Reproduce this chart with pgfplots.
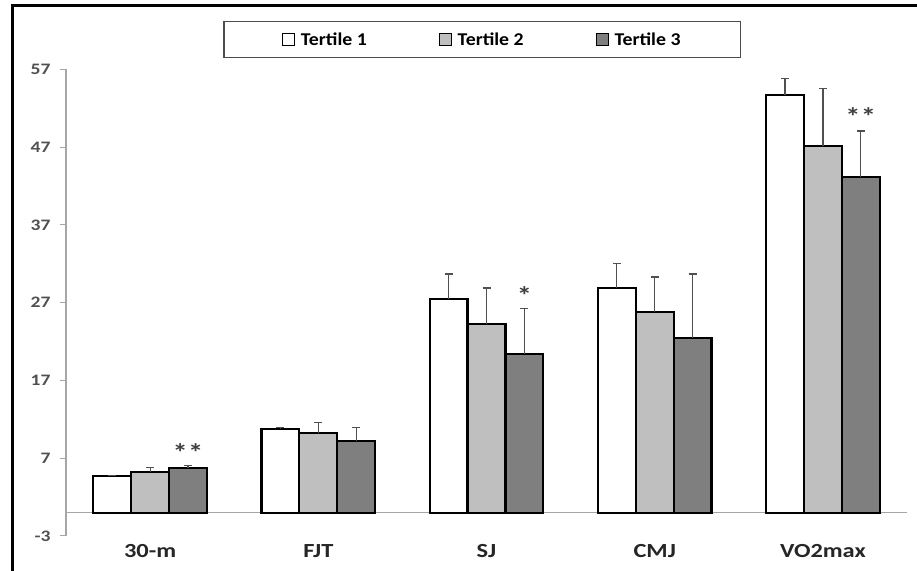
\documentclass[border=0pt]{standalone}
\usepackage{fontspec}
\setmainfont{Carlito}
\newfontfamily\catfont{Carlito}[FakeStretch=1.22]
\newfontfamily\legfont{Carlito}[FakeStretch=1.1]
\usepackage{pgfplots}
\pgfplotsset{compat=1.18}
\definecolor{tone2}{HTML}{BFBFBF}
\definecolor{tone3}{HTML}{7F7F7F}
\definecolor{axisgray}{HTML}{A6A6A6}
\definecolor{errgray}{HTML}{505050}
\definecolor{ticktext}{HTML}{505050}

\begin{document}
\begin{tikzpicture}[x=1bp,y=1bp]
\useasboundingbox (-66,-35) rectangle (851,536);
\fill[white] (-66,-35) rectangle (851,536);
\draw[line width=3bp] (-53,-35) -- (-53,530) -- (851,530);
\begin{axis}[
  at={(0,0)}, anchor=south west,
  scale only axis, width=841bp, height=466.5bp,
  xmin=-0.5, xmax=4.5, ymin=-3, ymax=57,
  axis y line=left, axis x line=middle,
  axis line style={-, axisgray, line width=1.2bp},
  every inner x axis line/.append style={-},
  every outer y axis line/.append style={-},
  clip=false,
  ybar=0pt,
  bar width=0.225,
  xtick={0,1,2,3,4},
  xticklabels={30-m,FJT,SJ,CMJ,VO2max},
  major x tick style={draw=none},
  extra x ticks={0.5,1.5,2.5,3.5,4.5},
  extra x tick labels={},
  extra x tick style={major tick length=6bp, tick style={axisgray, line width=1bp}},
  xticklabel style={font=\catfont\bfseries\fontsize{20bp}{22bp}\selectfont, text=black!85, yshift=-22bp},
  ytick={-3,7,17,27,37,47,57},
  yticklabel style={font=\catfont\bfseries\fontsize{16bp}{18bp}\selectfont, text=ticktext, xshift=-6bp},
  /pgf/number format/assume math mode=true,
  tick align=outside,
  major tick length=6bp,
  y tick style={axisgray, line width=1bp},
  legend columns=3,
  legend style={at={(0.495,1.064)}, anchor=center, draw=black!70, line width=1.5bp,
    inner xsep=58bp, inner ysep=9bp,
    font=\legfont\bfseries\fontsize{18bp}{20bp}\selectfont,
    /tikz/every even column/.append style={column sep=70bp}},
  legend image code/.code={\draw[#1, line width=1.5bp] (0bp,-6bp) rectangle (12bp,6bp); \path (15bp,0bp);},
  error bars/y dir=plus, error bars/y explicit,
  error bars/error bar style={line width=1.2bp, errgray},
  error bars/error mark options={rotate=90, mark size=4bp, line width=1.2bp, errgray},
]
\addplot[bar shift=-0.225, fill=white, draw=black, line width=2.2bp]
  coordinates {(0,4.7) +- (0,0.1) (1,10.8) +- (0,0.2) (2,27.5) +- (0,3.2) (3,28.9) +- (0,3.1) (4,53.7) +- (0,2.1)};
\addlegendentry{Tertile 1}
\addplot[bar shift=0, fill=tone2, draw=black, line width=2.2bp]
  coordinates {(0,5.2) +- (0,0.6) (1,10.2) +- (0,1.4) (2,24.3) +- (0,4.6) (3,25.8) +- (0,4.5) (4,47.2) +- (0,7.4)};
\addlegendentry{Tertile 2}
\addplot[bar shift=0.225, fill=tone3, draw=black, line width=2.2bp]
  coordinates {(0,5.7) +- (0,0.4) (1,9.2) +- (0,1.8) (2,20.4) +- (0,5.9) (3,22.5) +- (0,8.2) (4,43.2) +- (0,5.9)};
\addlegendentry{Tertile 3}
\node[font=\catfont\bfseries\fontsize{25bp}{26bp}\selectfont, text=black!75, yshift=-4bp] at (axis cs:0.225,8.2) {*\hspace{0.5bp}*};
\node[font=\catfont\bfseries\fontsize{25bp}{26bp}\selectfont, text=black!75, yshift=-4bp] at (axis cs:2.225,28.5) {*};
\node[font=\catfont\bfseries\fontsize{25bp}{26bp}\selectfont, text=black!75, yshift=-4bp] at (axis cs:4.225,51.4) {*\hspace{0.5bp}*};
\end{axis}
\end{tikzpicture}
\end{document}
